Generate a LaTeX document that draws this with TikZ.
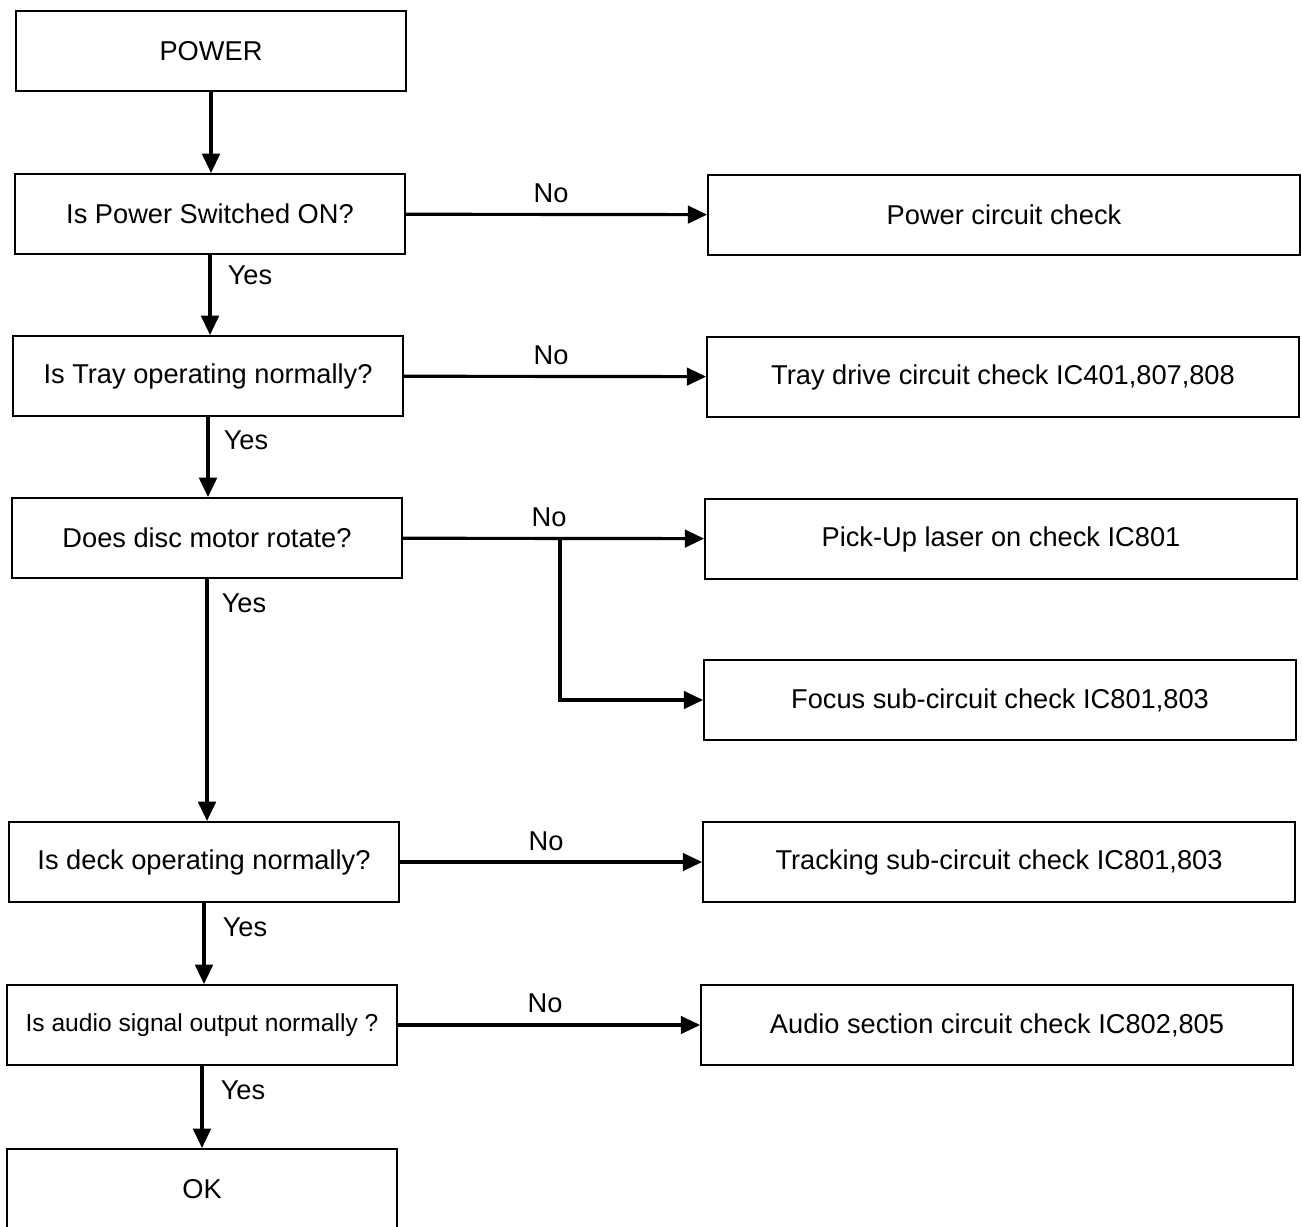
\documentclass[tikz,border=0pt]{standalone}
\usepackage{fontspec}
\setmainfont{Liberation Sans}
\usetikzlibrary{arrows.meta}

\begin{document}
\begin{tikzpicture}[x=0.02cm,y=-0.02cm,
   box/.style={draw,shape=rectangle,line width=1.1pt,minimum height=1.6cm,
     inner xsep=2pt,font=\fontsize{15.5}{18}\selectfont},
   qbox/.style={box,minimum width=7.8cm},
   cbox/.style={box,minimum width=11.84cm},
   flow/.style={line width=1.8pt,-{Triangle[length=11pt,width=10pt]}},
   lbl/.style={font=\fontsize{15.5}{18}\selectfont}]
   \useasboundingbox (0,0) rectangle (1302,1227);
   % questions
   \path (211,51) node[qbox] (P) {POWER};
   \path (210,214) node[qbox] (Q1) {Is Power Switched ON?};
   \path (208,376) node[qbox] (Q2) {Is Tray operating normally?};
   \path (207,538) node[qbox] (Q3) {Does disc motor rotate?};
   \path (204,862) node[qbox] (Q4) {Is deck operating normally?};
   \path (202,1025) node[qbox,font=\fontsize{14}{17}\selectfont] (Q5)
     {Is audio signal output normally ?\hspace{20pt}};
   \path (202,1189) node[qbox] (OK) {OK};
   % checks
   \path (1004,215) node[cbox] (C1) {Power circuit check};
   \path (1003,377) node[cbox] (C2) {Tray drive circuit check IC401,807,808};
   \path (1001,539) node[cbox] (C3) {Pick-Up laser on check IC801};
   \path (1000,700) node[cbox] (C4) {Focus sub-circuit check IC801,803};
   \path (999,862) node[cbox] (C5) {Tracking sub-circuit check IC801,803};
   \path (997,1025) node[cbox] (C6) {Audio section circuit check IC802,805};
   % yes path
   \draw[flow] (P.south) -- (P.south |- Q1.north);
   \draw[flow] (Q1.south) -- (Q1.south |- Q2.north);
   \draw[flow] (Q2.south) -- (Q2.south |- Q3.north);
   \draw[flow] (Q3.south) -- (Q3.south |- Q4.north);
   \draw[flow] (Q4.south) -- (Q4.south |- Q5.north);
   \draw[flow] (Q5.south) -- (Q5.south |- OK.north);
   \path (250,275) node[lbl] (y1) {Yes};
   \path (246,440) node[lbl] (y2) {Yes};
   \path (244,603) node[lbl] (y3) {Yes};
   \path (245,927) node[lbl] (y4) {Yes};
   \path (243,1090) node[lbl] (y5) {Yes};
   % no path
   \draw[flow] (Q1) -- (C1);
   \draw[flow] (Q2) -- (C2);
   \draw[flow] (Q3) -- (C3);
   \coordinate (br) at (560,538);
   \draw[flow] (br) |- (C4);
   \draw[flow] (Q4) -- (C5);
   \draw[flow] (Q5) -- (C6);
   \path (551,193) node[lbl] (n1) {No};
   \path (551,355) node[lbl] (n2) {No};
   \path (549,517) node[lbl] (n3) {No};
   \path (546,841) node[lbl] (n4) {No};
   \path (545,1003) node[lbl] (n5) {No};
\end{tikzpicture}
\end{document}
